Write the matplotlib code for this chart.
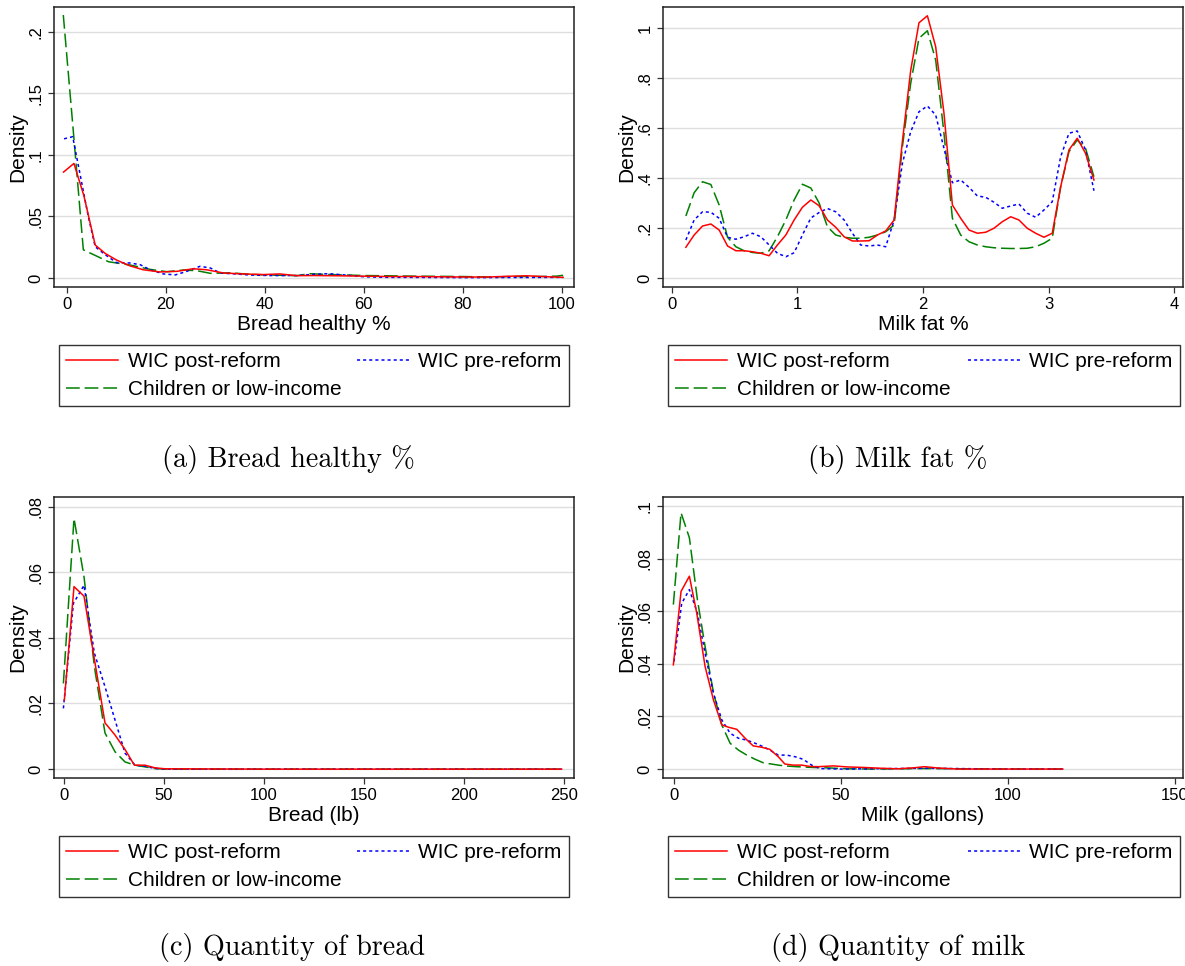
"""Kernel density comparison, four panels in the Stata look (2x2 with
legend boxes and LaTeX-style subcaptions underneath)."""

import matplotlib

matplotlib.use("Agg")

import matplotlib.pyplot as plt  # noqa: E402

W, H = 1185, 966

LABELS = ["WIC post-reform", "WIC pre-reform", "Children or low-income"]

# (a) Bread healthy %
bread_pct_post_x = [-0.7, 1.4, 3.4, 5.7, 7.7, 10.0, 12.7, 15.4, 18.8, 22.2, 25.5, 28.2, 31.6, 35.6,
                    39.7, 43.0, 46.5, 50, 55, 60, 65, 70, 75, 80, 85, 90, 93, 96, 100.3]
bread_pct_post_y = [0.086, 0.093, 0.067, 0.0268, 0.020, 0.0146, 0.0099, 0.0067, 0.0049, 0.0054,
                    0.0075, 0.0067, 0.0041, 0.0033, 0.0028, 0.0033, 0.0019, 0.002, 0.0018, 0.0015,
                    0.0012, 0.0012, 0.001, 0.0008, 0.0008, 0.0015, 0.0018, 0.0012, 0.0005]
bread_pct_pre_x = [-0.6, 1.15, 2.6, 4.3, 5.7, 7.7, 10.0, 12.7, 14.8, 16.8, 19.5, 21.9, 24.2, 26.9,
                   29.0, 31.0, 34.4, 37.1, 41.0, 46.5, 50, 53, 57, 60, 65, 70, 80, 90, 100.3]
bread_pct_pre_y = [0.113, 0.1147, 0.085, 0.05, 0.0254, 0.019, 0.0125, 0.0122, 0.0108, 0.0067,
                   0.0033, 0.0025, 0.0054, 0.0095, 0.0081, 0.004, 0.0032, 0.0024, 0.002, 0.002,
                   0.003, 0.0035, 0.0022, 0.001, 0.0005, 0.0005, 0.0003, 0.0004, 0.0005]
bread_pct_kids_x = [-0.75, 1.3, 3.3, 4.3, 8.4, 12.8, 16.8, 20.2, 23.6, 26.3, 29.0, 33.0, 37.0,
                    41.0, 46.5, 49, 52, 56, 60, 65, 70, 80, 85, 90, 95, 99, 100.3]
bread_pct_kids_y = [0.2135, 0.118, 0.0229, 0.021, 0.0132, 0.0105, 0.007, 0.0051, 0.0065, 0.0059,
                    0.0038, 0.0042, 0.003, 0.0024, 0.0019, 0.0035, 0.003, 0.0025, 0.002, 0.0018,
                    0.0015, 0.0012, 0.0008, 0.0012, 0.0012, 0.0015, 0.0022]

# (b) Milk fat %
milk_fat_x = [0.112, 0.178, 0.245, 0.311, 0.377, 0.444, 0.510, 0.576, 0.642, 0.709,
              0.775, 0.841, 0.908, 0.974, 1.040, 1.107, 1.173, 1.239, 1.305, 1.372,
              1.438, 1.504, 1.571, 1.637, 1.703, 1.770, 1.836, 1.902, 1.968, 2.035,
              2.101, 2.167, 2.234, 2.300, 2.366, 2.433, 2.499, 2.565, 2.631, 2.698,
              2.764, 2.830, 2.897, 2.963, 3.029, 3.096, 3.162, 3.228, 3.294, 3.361]
milk_fat_post_y = [0.123, 0.172, 0.208, 0.216, 0.192, 0.128, 0.109, 0.109, 0.105, 0.099,
                   0.089, 0.132, 0.172, 0.232, 0.283, 0.312, 0.289, 0.232, 0.203, 0.165,
                   0.148, 0.148, 0.149, 0.172, 0.188, 0.232, 0.547, 0.830, 1.021, 1.049,
                   0.925, 0.659, 0.292, 0.239, 0.192, 0.179, 0.183, 0.199, 0.225, 0.245,
                   0.232, 0.199, 0.179, 0.163, 0.179, 0.365, 0.512, 0.559, 0.499, 0.392]
milk_fat_pre_y = [0.152, 0.232, 0.265, 0.263, 0.239, 0.163, 0.155, 0.165, 0.179, 0.165,
                  0.132, 0.099, 0.085, 0.101, 0.172, 0.240, 0.262, 0.278, 0.265, 0.232,
                  0.179, 0.132, 0.128, 0.132, 0.125, 0.232, 0.459, 0.585, 0.665, 0.688,
                  0.652, 0.519, 0.381, 0.392, 0.363, 0.328, 0.323, 0.303, 0.279, 0.288,
                  0.296, 0.259, 0.243, 0.272, 0.305, 0.485, 0.579, 0.588, 0.512, 0.349]
milk_fat_kids_y = [0.248, 0.341, 0.385, 0.374, 0.292, 0.163, 0.125, 0.109, 0.102, 0.099,
                   0.109, 0.165, 0.232, 0.312, 0.375, 0.360, 0.300, 0.205, 0.172, 0.163,
                   0.159, 0.159, 0.163, 0.172, 0.185, 0.212, 0.525, 0.779, 0.959, 0.989,
                   0.872, 0.579, 0.239, 0.172, 0.145, 0.132, 0.125, 0.121, 0.119, 0.118,
                   0.118, 0.119, 0.125, 0.139, 0.159, 0.365, 0.505, 0.552, 0.519, 0.405]

# (c) Quantity of bread
bread_lb_post_x = [0.17, 5.0, 10.0, 15.2, 20.5, 25.5, 30.5, 35.2, 40.5, 45.5, 50.5, 100, 150, 200, 248.8]
bread_lb_post_y = [0.021, 0.0556, 0.0527, 0.0335, 0.0141, 0.0104, 0.006, 0.0012, 0.0012, 0.0004,
                   0.0001, 0, 0, 0, 0]
bread_lb_pre_x = [-0.3, 4.7, 10.0, 15.2, 20.5, 25.5, 30.5, 35.5, 40.5, 45.5, 50.5, 100, 150, 200, 248.8]
bread_lb_pre_y = [0.0185, 0.0505, 0.056, 0.0353, 0.0251, 0.015, 0.0049, 0.0012, 0.0009, 0.0002,
                  0, 0, 0, 0, 0]
bread_lb_kids_x = [-0.3, 5.0, 10.0, 15.2, 20.5, 25.5, 30.5, 35.5, 40.5, 45.5, 50.5, 100, 150, 200, 248.8]
bread_lb_kids_y = [0.0261, 0.0764, 0.0586, 0.0312, 0.011, 0.0053, 0.0022, 0.0012, 0.0007, 0.0002,
                   0, 0, 0, 0, 0]

# (d) Quantity of milk
milk_gal_post_x = [-0.2, 2.1, 4.6, 6.8, 9.3, 11.8, 14.3, 16.3, 18.8, 21.3, 23.7, 26.2, 28.7, 31.2,
                   33.2, 35.7, 38.2, 40.7, 43.2, 47.7, 52, 57, 62, 67, 72, 75, 79, 85, 100, 116.4]
milk_gal_post_y = [0.0396, 0.0675, 0.0733, 0.0593, 0.039, 0.0263, 0.0168, 0.0159, 0.0151, 0.0117,
                   0.0088, 0.0083, 0.0075, 0.0047, 0.0019, 0.0015, 0.0015, 0.001, 0.0009, 0.0012,
                   0.0008, 0.0006, 0.0003, 0.0001, 0.0005, 0.0009, 0.0004, 0, 0, 0]
milk_gal_pre_x = [0, 2.3, 4.6, 7.0, 9.3, 11.8, 14.3, 16.8, 19.3, 21.8, 24.3, 26.7, 28.7, 31.2,
                  33.7, 36.2, 38.7, 41.2, 43.7, 50, 75, 100, 116.4]
milk_gal_pre_y = [0.0409, 0.063, 0.0682, 0.0593, 0.044, 0.0288, 0.0187, 0.0136, 0.0117, 0.011,
                  0.0098, 0.0085, 0.0072, 0.0053, 0.0053, 0.0047, 0.0037, 0.0015, 0.0002, 0,
                  0.0003, 0, 0]
milk_gal_kids_x = [-0.2, 2.1, 4.6, 7.0, 9.3, 11.8, 14.3, 16.8, 19.3, 21.8, 24.3, 26.7, 29.2, 31.7,
                   34.2, 36.7, 41.7, 46.7, 51.7, 60, 75, 100, 116.4]
milk_gal_kids_y = [0.0625, 0.0974, 0.0879, 0.0644, 0.0466, 0.0292, 0.0168, 0.0098, 0.0072, 0.0053,
                   0.0037, 0.0024, 0.0019, 0.0014, 0.0011, 0.0009, 0.0006, 0.0004, 0.0001, 0,
                   0.0002, 0, 0]

AXIS_FONT = "Liberation Sans"
RED, BLUE, GREEN = "#ff0000", "#0000ff", "#008000"


def draw_panel(ax, post, pre, kids, xticks, yticks, ylabels, xlabel, xlim, ylim):
    """Three density lines plus Stata-ish axes. Returns the line handles
    in legend order (column-wise: post, kids | pre)."""

    for y in yticks:
        ax.axhline(y, color="#dedede", linewidth=1.0, zorder=0)

    l_post, = ax.plot(*post, color=RED, linewidth=1.1, zorder=3)
    l_pre, = ax.plot(*pre, color=BLUE, linewidth=1.1, linestyle=(0, (2, 2)), zorder=2)
    l_kids, = ax.plot(*kids, color=GREEN, linewidth=1.1, linestyle=(0, (9, 3.2)), zorder=1)

    ax.set_xlim(*xlim)
    ax.set_ylim(*ylim)
    ax.set_xticks(xticks)
    ax.set_xticklabels([str(t) for t in xticks], fontsize=12, family=AXIS_FONT)
    ax.set_yticks(yticks)
    ax.set_yticklabels(ylabels, fontsize=12, family=AXIS_FONT, rotation=90, va="center")

    ax.tick_params(direction="out", length=4.3, width=0.9, color="#333333", pad=3)

    for spine in ax.spines.values():
        spine.set_linewidth(1.1)
        spine.set_color("#222222")

    ax.set_xlabel(xlabel, fontsize=15, family=AXIS_FONT, labelpad=2)
    ax.set_ylabel("Density", fontsize=15, family=AXIS_FONT, labelpad=1)

    return [l_post, l_kids, l_pre]


def add_legend(fig, handles, left, top, width, height=62):
    leg = fig.legend(
        handles,
        [LABELS[0], LABELS[2], LABELS[1]],
        loc="upper left",
        bbox_to_anchor=(left / W, 1 - (top + height) / H, width / W, height / H),
        bbox_transform=fig.transFigure,
        mode="expand",
        ncol=2,
        borderaxespad=0,
        borderpad=0.35,
        labelspacing=0.42,
        handlelength=2.5,
        handletextpad=0.45,
        fancybox=False,
        framealpha=1,
        prop={"family": AXIS_FONT, "size": 15},
    )
    leg.get_frame().set_edgecolor("#333333")
    leg.get_frame().set_linewidth(1.0)


fig = plt.figure(figsize=(W / 100, H / 100), dpi=100)

ax_w, ax_h = 520 / W, 280 / H
ax_a = fig.add_axes([54 / W, 1 - 287 / H, ax_w, ax_h])
ax_b = fig.add_axes([663 / W, 1 - 287 / H, ax_w, ax_h])
ax_c = fig.add_axes([54 / W, 1 - 778 / H, ax_w, 281 / H])
ax_d = fig.add_axes([663 / W, 1 - 778 / H, ax_w, 281 / H])

h_a = draw_panel(ax_a, (bread_pct_post_x, bread_pct_post_y), (bread_pct_pre_x, bread_pct_pre_y),
                 (bread_pct_kids_x, bread_pct_kids_y), [0, 20, 40, 60, 80, 100],
                 [0, 0.05, 0.1, 0.15, 0.2], ["0", ".05", ".1", ".15", ".2"],
                 "Bread healthy %", (-2.63, 102.5), (-0.0073, 0.22))
h_b = draw_panel(ax_b, (milk_fat_x, milk_fat_post_y), (milk_fat_x, milk_fat_pre_y),
                 (milk_fat_x, milk_fat_kids_y), [0, 1, 2, 3, 4],
                 [0, 0.2, 0.4, 0.6, 0.8, 1.0], ["0", ".2", ".4", ".6", ".8", "1"],
                 "Milk fat %", (-0.07, 4.07), (-0.036, 1.084))
h_c = draw_panel(ax_c, (bread_lb_post_x, bread_lb_post_y), (bread_lb_pre_x, bread_lb_pre_y),
                 (bread_lb_kids_x, bread_lb_kids_y), [0, 50, 100, 150, 200, 250],
                 [0, 0.02, 0.04, 0.06, 0.08], ["0", ".02", ".04", ".06", ".08"],
                 "Bread (lb)", (-5, 255), (-0.0027, 0.0829))
h_d = draw_panel(ax_d, (milk_gal_post_x, milk_gal_post_y), (milk_gal_pre_x, milk_gal_pre_y),
                 (milk_gal_kids_x, milk_gal_kids_y), [0, 50, 100, 150],
                 [0, 0.02, 0.04, 0.06, 0.08, 0.1], ["0", ".02", ".04", ".06", ".08", ".1"],
                 "Milk (gallons)", (-3.3, 152.4), (-0.0034, 0.1034))

add_legend(fig, h_a, 59, 345, 510)
add_legend(fig, h_b, 668, 345, 512)
add_legend(fig, h_c, 59, 836, 510)
add_legend(fig, h_d, 668, 836, 512)

captions = [
    ("(a) Bread healthy %", 288, 460),
    ("(b) Milk fat %", 898, 460),
    ("(c) Quantity of bread", 292, 948),
    ("(d) Quantity of milk", 898, 948),
]
for text, cx, cy in captions:
    fig.text(cx / W, 1 - cy / H, text, ha="center", va="center",
             family=["cmr10", "DejaVu Serif"], fontsize=20.3)

fig.savefig("out.png", dpi=100)
plt.close(fig)
